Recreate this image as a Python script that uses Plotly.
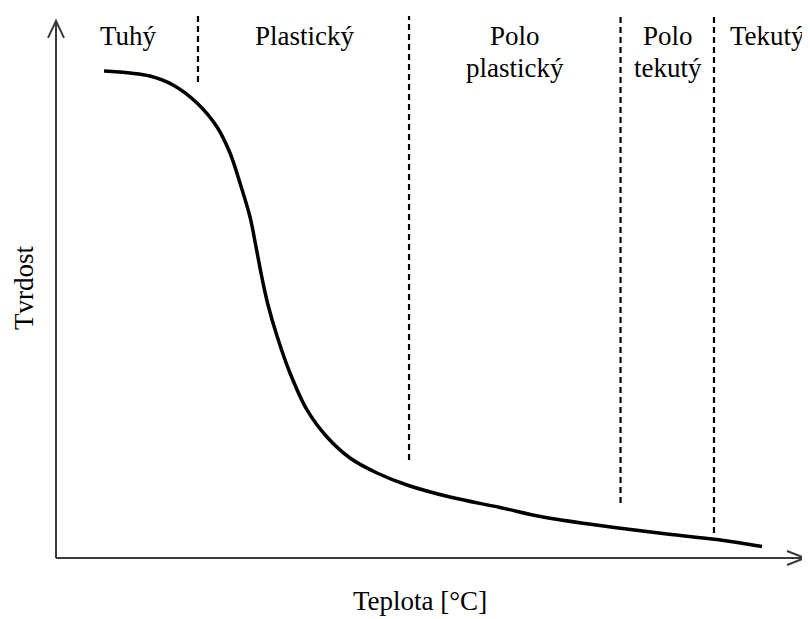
import plotly.graph_objects as go

# Curve: hardness vs temperature (arbitrary units 0..100)
teplota = [6.40, 9.87, 12.53, 15.60, 18.80, 21.47, 23.20, 24.53, 25.87, 26.67, 27.47, 28.27,
           29.47, 31.20, 33.47, 36.13, 39.20, 42.80, 46.80, 52.53, 59.20, 64.93, 72.53,
           81.47, 88.13, 94.13]
tvrdost = [89.85, 89.48, 88.93, 87.27, 83.95, 79.52, 74.72, 69.19, 62.92, 57.38, 51.66, 46.68,
           40.96, 34.13, 27.31, 22.32, 18.45, 15.68, 13.47, 11.25, 9.32, 7.56, 5.99,
           4.43, 3.41, 2.12]

# Region boundaries (dashed lines): x position and lower end
hranice_x = [18.93, 47.07, 75.27, 87.73]
hranice_dolni = [87.82, 18.08, 10.15, 4.61]
hranice_horni = 100

# Region labels
oblasti = [
    ("Tuhý", 9.6, [96.3]),
    ("Plastický", 33.07, [96.3]),
    ("Polo<br>plastický", 61.2, [96.3, 90.4]),
    ("Polo<br>tekutý", 81.6, [96.3, 90.4]),
    ("Tekutý", 94.93, [96.3]),
]

FONT = "Liberation Serif, Times New Roman, serif"
FS = 27
AXC = "#3a3a3a"

fig = go.Figure()

fig.add_trace(go.Scatter(x=teplota, y=tvrdost, mode="lines",
                         line=dict(color="black", width=3.5, shape="spline", smoothing=1.0),
                         hoverinfo="skip", showlegend=False))

for hx, hd in zip(hranice_x, hranice_dolni):
    fig.add_trace(go.Scatter(x=[hx, hx], y=[hd, hranice_horni], mode="lines",
                             line=dict(color="black", width=2.2, dash="6px,4px"),
                             hoverinfo="skip", showlegend=False))

annotations = []
for text, x, ys in oblasti:
    lines = text.split("<br>")
    for line, y in zip(lines, ys):
        annotations.append(dict(x=x, y=y, xref="x", yref="y", text=line, showarrow=False,
                                xanchor="center", yanchor="middle",
                                font=dict(family=FONT, size=FS, color="black")))

annotations.append(dict(x=48.53, y=-0.079, xref="x", yref="paper", text="Teplota [°C]",
                        showarrow=False, xanchor="center", yanchor="middle",
                        font=dict(family=FONT, size=FS, color="black")))
annotations.append(dict(x=-0.0427, y=0.498, xref="paper", yref="paper", text="Tvrdost",
                        showarrow=False, xanchor="center", yanchor="middle", textangle=-90,
                        font=dict(family=FONT, size=FS, color="black")))

x_tip = 0.9987
y_tip = 0.991
shapes = [
    # y axis line
    dict(type="line", xref="paper", yref="paper", x0=0, x1=0, y0=0, y1=y_tip,
         line=dict(color=AXC, width=2)),
    # x axis line
    dict(type="line", xref="paper", yref="paper", x0=0, x1=x_tip, y0=0, y1=0,
         line=dict(color=AXC, width=2)),
    # y arrow head
    dict(type="path", xref="paper", yref="paper", xsizemode="pixel", ysizemode="pixel",
         xanchor=0, yanchor=y_tip, path="M -8,-17 L 0,0 L 8,-17",
         line=dict(color=AXC, width=2)),
    # x arrow head
    dict(type="path", xref="paper", yref="paper", xsizemode="pixel", ysizemode="pixel",
         xanchor=x_tip, yanchor=0, path="M -18,7 L 0,0 L -18,-7",
         line=dict(color=AXC, width=2)),
]

fig.update_layout(
    width=802, height=611,
    margin=dict(l=48, r=4, t=8, b=61),
    paper_bgcolor="white", plot_bgcolor="white",
    xaxis=dict(range=[0, 100], visible=False, fixedrange=True),
    yaxis=dict(range=[0, 100], visible=False, fixedrange=True),
    annotations=annotations, shapes=shapes,
)

fig.write_html("out.html")
